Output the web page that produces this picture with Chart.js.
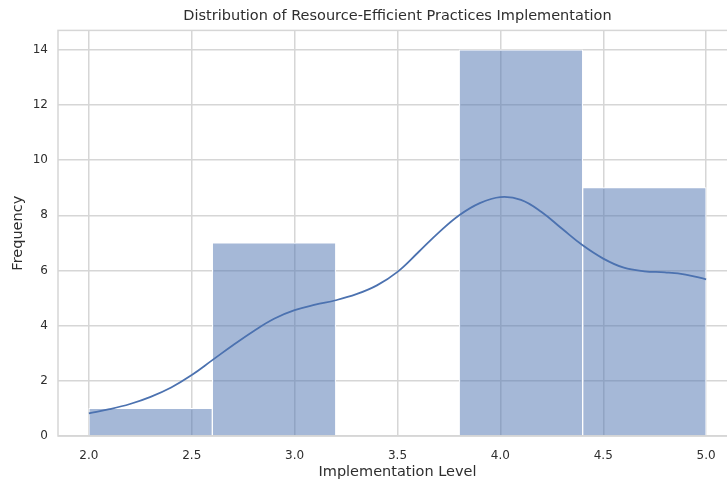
<!DOCTYPE html>
<html>
<head>
<meta charset="utf-8">
<script src="https://cdn.jsdelivr.net/npm/chart.js@4/dist/chart.umd.min.js"></script>
<style>
  html, body { margin: 0; padding: 0; background: #fff; overflow: hidden; }
  #wrap { width: 745px; height: 481px; position: relative; }
</style>
</head>
<body>
<div id="wrap"><canvas id="c"></canvas></div>
<script>
// Histogram bins (edges) and counts
const binEdges = [2.0, 2.6, 3.2, 3.8, 4.4, 5.0];
const counts = [1, 7, 0, 14, 9];

// Kernel density estimate, scaled to counts
const kdeX = [2.0, 2.1, 2.2, 2.3, 2.4, 2.5, 2.6, 2.7, 2.8, 2.9, 3.0, 3.1, 3.2, 3.3, 3.4, 3.5,
              3.6, 3.7, 3.8, 3.9, 4.0, 4.1, 4.2, 4.3, 4.4, 4.5, 4.6, 4.7, 4.8, 4.9, 5.0];
const kdeY = [0.82, 0.97, 1.16, 1.42, 1.76, 2.21, 2.75, 3.29, 3.8, 4.25, 4.56, 4.76, 4.92, 5.14, 5.46, 5.95,
              6.65, 7.37, 8.0, 8.44, 8.66, 8.56, 8.12, 7.51, 6.91, 6.43, 6.1, 5.97, 5.93, 5.85, 5.68];

// Axis ticks
const xTicks = [2.0, 2.5, 3.0, 3.5, 4.0, 4.5, 5.0];
const yTicks = [0, 2, 4, 6, 8, 10, 12, 14];

const barPoints = counts.map((c, i) => ({ x: (binEdges[i] + binEdges[i + 1]) / 2, y: c }));
const kdePoints = kdeX.map((x, i) => ({ x: x, y: kdeY[i] }));

const gridColor = '#d6d6d6';
const textColor = '#2e2e2e';
const fontFamily = 'DejaVu Sans';

const span = binEdges[binEdges.length - 1] - binEdges[0];
const xMin = binEdges[0] - 0.05 * span;
const xMax = binEdges[binEdges.length - 1] + 0.05 * span;
const yMax = Math.max(...counts) * 1.05;

// Frame around the plotting area (all four spines)
const frame = {
  id: 'frame',
  afterDraw(chart) {
    const a = chart.chartArea, ctx = chart.ctx;
    ctx.save();
    ctx.strokeStyle = gridColor;
    ctx.lineWidth = 1.5;
    ctx.strokeRect(a.left, a.top, a.right - a.left, a.bottom - a.top);
    ctx.restore();
  }
};

new Chart(document.getElementById('c'), {
  type: 'bar',
  data: {
    datasets: [
      {
        type: 'line',
        xAxisID: 'x',
        data: kdePoints,
        borderColor: '#4c72b0',
        borderWidth: 1.8,
        pointRadius: 0,
        tension: 0.4,
        fill: false,
        order: 0
      },
      {
        type: 'bar',
        xAxisID: 'xb',
        data: barPoints,
        backgroundColor: 'rgba(76,114,176,0.5)',
        borderColor: '#ffffff',
        borderWidth: 1,
        barPercentage: 1,
        categoryPercentage: 1,
        grouped: false,
        order: 1
      }
    ]
  },
  options: {
    responsive: true,
    maintainAspectRatio: false,
    animation: false,
    layout: { padding: { left: 0, right: 8, top: 0, bottom: 0 } },
    plugins: {
      legend: { display: false },
      tooltip: { enabled: false },
      title: {
        display: true,
        fullSize: false,
        text: 'Distribution of Resource-Efficient Practices Implementation',
        color: textColor,
        font: { family: fontFamily, size: 14.5, weight: 'normal' },
        padding: { top: 8, bottom: 5 }
      }
    },
    scales: {
      // hidden axis whose ticks follow the bin edges, so each bar spans one bin
      xb: {
        type: 'linear',
        position: 'bottom',
        display: false,
        min: xMin,
        max: xMax,
        offset: false,
        afterBuildTicks: s => { s.ticks = binEdges.map(v => ({ value: v })); },
        grid: { display: false, offset: false }
      },
      x: {
        type: 'linear',
        position: 'bottom',
        min: xMin,
        max: xMax,
        offset: false,
        afterBuildTicks: s => { s.ticks = xTicks.map(v => ({ value: v })); },
        ticks: {
          color: textColor,
          font: { family: fontFamily, size: 12 },
          padding: 13,
          callback: v => Number(v).toFixed(1)
        },
        grid: { color: gridColor, lineWidth: 1.5, drawTicks: false, offset: false },
        border: { display: false },
        title: {
          display: true,
          text: 'Implementation Level',
          color: textColor,
          font: { family: fontFamily, size: 14.5 },
          padding: { top: 4, bottom: 0 }
        },
        afterFit: s => { s.height = 45; }
      },
      y: {
        type: 'linear',
        min: 0,
        max: yMax,
        afterBuildTicks: s => { s.ticks = yTicks.map(v => ({ value: v })); },
        ticks: {
          color: textColor,
          font: { family: fontFamily, size: 12 },
          padding: 10
        },
        grid: { color: gridColor, lineWidth: 1.5, drawTicks: false },
        border: { display: false },
        title: {
          display: true,
          text: 'Frequency',
          color: textColor,
          font: { family: fontFamily, size: 14.5 },
          padding: { top: 10, bottom: 4 }
        },
        afterFit: s => { s.width = 58; }
      }
    }
  },
  plugins: [frame]
});
</script>
</body>
</html>
